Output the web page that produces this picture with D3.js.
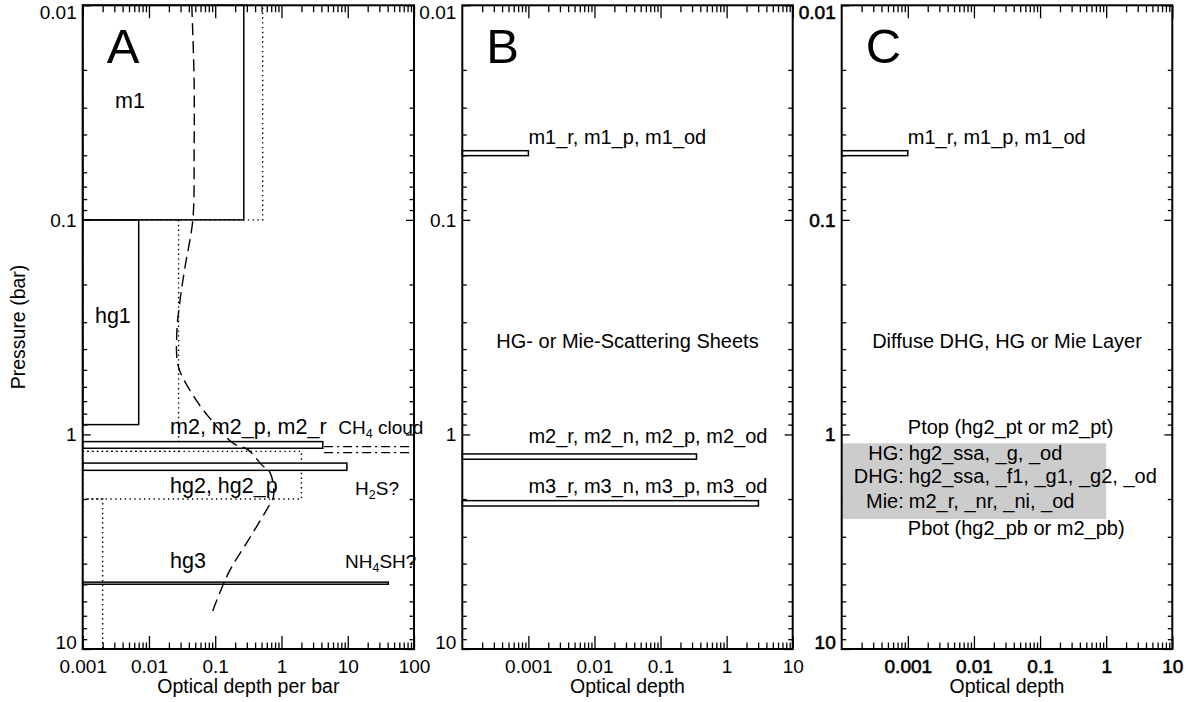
<!DOCTYPE html>
<html><head><meta charset="utf-8">
<script src="https://cdn.jsdelivr.net/npm/d3@7"></script>
<style>
body{margin:0;background:#fff}
svg{display:block}
text{font-family:"Liberation Sans",Arial,Helvetica,sans-serif;fill:#000}
</style>
</head><body>
<svg id="chart" width="1190" height="702"></svg>
<script>
// ---------------- data ----------------
const pressureTicks = [0.01, 0.1, 1, 10];
const pressureTickLabels = ["0.01", "0.1", "1", "10"];
const odTicksA = [0.001, 0.01, 0.1, 1, 10, 100];
const odTickLabelsA = ["0.001", "0.01", "0.1", "1", "10", "100"];
const odTicksBC = [0.001, 0.01, 0.1, 1, 10];
const odTickLabelsBC = ["0.001", "0.01", "0.1", "1", "10"];

// Panel A: solid layers (top pressure, bottom pressure, optical depth per bar)
const layerNamesA = ["m1", "hg1", "m2", "H2S", "hg3"];
const layerTopA = [0.01, 0.1, 1.08, 1.36, 4.88];
const layerBotA = [0.1, 0.9, 1.16, 1.47, 4.99];
const layerOdA = [0.27, 0.007, 4.2, 9.7, 41];

// Panel A: dotted profile layers
const dotTopA = [0.01, 0.1, 1.2, 2.0];
const dotBotA = [0.1, 1.2, 2.0, 10];
const dotOdA = [0.52, 0.028, 2.0, 0.002];

// Panel A: dashed profile curve
const curvePA = [0.01, 0.0223, 0.0472, 0.1, 0.165, 0.236, 0.338, 0.483, 0.643, 0.826, 1.10, 1.18, 1.39, 1.51, 1.95, 2.17, 3.10, 4.43, 6.81];
const curveOdA = [0.0443, 0.048, 0.048, 0.0459, 0.0351, 0.0295, 0.0263, 0.0278, 0.0443, 0.079, 0.188, 0.314, 0.506, 0.675, 0.757, 0.636, 0.318, 0.158, 0.089];

// Panel A: dash-dot lines (CH4 cloud)
const dashDotPA = [1.14, 1.215];
const dashDotOdStartA = [4.4, 4.4];

// Panel B: scattering sheets
const sheetTopB = [0.0476, 1.233, 2.035];
const sheetBotB = [0.0502, 1.305, 2.155];
const sheetOdB = [0.001, 0.35, 3.03];

// Panel C: sheet + diffuse layer
const sheetTopC = [0.0476];
const sheetBotC = [0.0502];
const sheetOdC = [0.001];
const diffuseTopC = 1.1, diffuseBotC = 2.48, diffuseOdC = 1.0;

// ---------------- layout ----------------
const svg = d3.select("#chart");
const yTop = 5.3, yBot = 649;
const y = d3.scaleLog().domain([0.01, 10]).range([yTop, yBot]);

const panels = [
  {x0: 82.7, x1: 414, dom: [0.001, 100], ticks: odTicksA, labels: odTickLabelsA, title: "Optical depth per bar", letter: "A", heavy: false},
  {x0: 462.3, x1: 792.7, dom: [0.0001, 10], ticks: odTicksBC, labels: odTickLabelsBC, title: "Optical depth", letter: "B", heavy: false},
  {x0: 841.7, x1: 1172.3, dom: [0.0001, 10], ticks: odTicksBC, labels: odTickLabelsBC, title: "Optical depth", letter: "C", heavy: true}
];
panels.forEach(p => { p.x = d3.scaleLog().domain(p.dom).range([p.x0, p.x1]); });

function minorValues(lo, hi) {
  const out = [];
  for (let d = lo; d < hi * 0.999; d *= 10) for (let k = 2; k <= 9; k++) out.push(d * k);
  return out;
}
const yMinor = minorValues(0.01, 10);

// ---------------- axes ----------------
panels.forEach((p, pi) => {
  const g = svg.append("g");
  const xMinor = minorValues(p.dom[0], p.dom[1]);
  const styleAxis = sel => { sel.select(".domain").remove(); sel.selectAll("line").attr("stroke", "#000").attr("stroke-width", 1.3); };
  const styleText = sel => sel.attr("font-size", 19).attr("font-family", null).attr("fill", "#000")
    .attr("stroke", p.heavy ? "#000" : null).attr("stroke-width", p.heavy ? 0.6 : null);

  // bottom
  g.append("g").attr("transform", `translate(0,${yBot})`)
    .call(d3.axisBottom(p.x).tickValues(xMinor).tickSizeInner(-6.5).tickSizeOuter(0).tickFormat(""))
    .call(styleAxis);
  const bt = g.append("g").attr("transform", `translate(0,${yBot})`)
    .call(d3.axisBottom(p.x).tickValues(p.ticks).tickSizeInner(-13).tickSizeOuter(0).tickPadding(11)
      .tickFormat((d, i) => p.labels[i]))
    .call(styleAxis);
  bt.selectAll("text").call(styleText);
  // top
  g.append("g").attr("transform", `translate(0,${yTop})`)
    .call(d3.axisTop(p.x).tickValues(xMinor).tickSizeInner(-7).tickSizeOuter(0).tickFormat(""))
    .call(styleAxis);
  g.append("g").attr("transform", `translate(0,${yTop})`)
    .call(d3.axisTop(p.x).tickValues(p.ticks).tickSizeInner(-13).tickSizeOuter(0).tickFormat(""))
    .call(styleAxis);
  // left
  g.append("g").attr("transform", `translate(${p.x0},0)`)
    .call(d3.axisLeft(y).tickValues(yMinor).tickSizeInner(-4.5).tickSizeOuter(0).tickFormat(""))
    .call(styleAxis);
  const lt = g.append("g").attr("transform", `translate(${p.x0},0)`)
    .call(d3.axisLeft(y).tickValues(pressureTicks).tickSizeInner(-8).tickSizeOuter(0).tickPadding(6)
      .tickFormat((d, i) => pressureTickLabels[i]))
    .call(styleAxis);
  lt.selectAll("text").call(styleText)
    .attr("dy", (d, i) => i === 0 ? "0.68em" : (i === pressureTicks.length - 1 ? "-0.02em" : "0.34em"));
  // right
  g.append("g").attr("transform", `translate(${p.x1},0)`)
    .call(d3.axisRight(y).tickValues(yMinor).tickSizeInner(-4.5).tickSizeOuter(0).tickFormat(""))
    .call(styleAxis);
  g.append("g").attr("transform", `translate(${p.x1},0)`)
    .call(d3.axisRight(y).tickValues(pressureTicks).tickSizeInner(-8).tickSizeOuter(0).tickFormat(""))
    .call(styleAxis);

  // titles
  svg.append("text").attr("x", (p.x0 + p.x1) / 2).attr("y", 693.3).attr("text-anchor", "middle")
    .attr("font-size", 19.5).text(p.title);
});

svg.append("text").attr("transform", "translate(24.5,327) rotate(-90)").attr("text-anchor", "middle")
  .attr("font-size", 19.5).text("Pressure (bar)");

// ---------------- panel A marks ----------------
const A = panels[0], B = panels[1], C = panels[2];
const gA = svg.append("g");

// dotted profile
gA.selectAll("rect.dot").data(dotOdA).join("rect").attr("class", "dot")
  .attr("x", A.x(A.dom[0])).attr("width", d => A.x(d) - A.x(A.dom[0]))
  .attr("y", (d, i) => y(dotTopA[i])).attr("height", (d, i) => y(dotBotA[i]) - y(dotTopA[i]))
  .attr("fill", "none").attr("stroke", "#000").attr("stroke-width", 1.4).attr("stroke-dasharray", "1.4,3.4");

// solid layers
gA.selectAll("rect.layer").data(layerOdA).join("rect").attr("class", "layer")
  .attr("x", A.x(A.dom[0])).attr("width", d => A.x(d) - A.x(A.dom[0]))
  .attr("y", (d, i) => y(layerTopA[i])).attr("height", (d, i) => y(layerBotA[i]) - y(layerTopA[i]))
  .attr("fill", (d, i) => i >= 2 ? "#fff" : "none").attr("stroke", "#000").attr("stroke-width", 1.5);

// dash-dot lines
gA.selectAll("line.dd").data(dashDotPA).join("line").attr("class", "dd")
  .attr("x1", (d, i) => A.x(dashDotOdStartA[i])).attr("x2", A.x(A.dom[1]))
  .attr("y1", d => y(d)).attr("y2", d => y(d))
  .attr("stroke", "#000").attr("stroke-width", 1.3).attr("stroke-dasharray", "9,4,2,4");

// dashed curve
const curveData = curvePA.map((p, i) => [curveOdA[i], p]);
gA.append("path").datum(curveData)
  .attr("d", d3.line().x(d => A.x(d[0])).y(d => y(d[1])).curve(d3.curveCatmullRom.alpha(0.5)))
  .attr("fill", "none").attr("stroke", "#000").attr("stroke-width", 1.4).attr("stroke-dasharray", "12,6");

// labels A
function label(g, xs, xv, pv, txt, size, anchor) {
  return g.append("text").attr("x", xs(xv)).attr("y", y(pv)).attr("font-size", size)
    .attr("text-anchor", anchor || "start").text(txt);
}
label(gA, A.x, 0.00308, 0.0301, "m1", 21.5);
label(gA, A.x, 0.00153, 0.301, "hg1", 21.5);
label(gA, A.x, 0.0208, 1.0, "m2, m2_p, m2_r", 21.5);
label(gA, A.x, 0.0208, 1.88, "hg2, hg2_p", 21.5);
label(gA, A.x, 0.0208, 4.2, "hg3", 21.5);

function chem(g, xs, xv, pv, pre, sub, post) {
  const t = g.append("text").attr("x", xs(xv)).attr("y", y(pv)).attr("font-size", 19);
  t.append("tspan").text(pre);
  t.append("tspan").attr("font-size", 12.5).attr("dy", 4).text(sub);
  t.append("tspan").attr("dy", -4).text(post);
  return t;
}
chem(gA, A.x, 7.2, 1.0, "CH", "4", " cloud");
chem(gA, A.x, 12.9, 1.91, "H", "2", "S?");
chem(gA, A.x, 9.1, 4.2, "NH", "4", "SH?");

// panel letters
panels.forEach(p => {
  svg.append("text").attr("x", p.x0 + 24).attr("y", 63.3).attr("font-size", 49).text(p.letter);
});

// ---------------- panel B marks ----------------
const gB = svg.append("g");
gB.selectAll("rect").data(sheetOdB).join("rect")
  .attr("x", B.x(B.dom[0])).attr("width", d => B.x(d) - B.x(B.dom[0]))
  .attr("y", (d, i) => y(sheetTopB[i])).attr("height", (d, i) => y(sheetBotB[i]) - y(sheetTopB[i]))
  .attr("fill", "#fff").attr("stroke", "#000").attr("stroke-width", 1.5);
label(gB, B.x, 0.001, 0.0443, "m1_r, m1_p, m1_od", 20);
label(gB, B.x, 0.001, 1.092, "m2_r, m2_n, m2_p, m2_od", 20);
label(gB, B.x, 0.001, 1.879, "m3_r, m3_n, m3_p, m3_od", 20);
gB.append("text").attr("x", (B.x0 + B.x1) / 2).attr("y", 348.3).attr("text-anchor", "middle")
  .attr("font-size", 20).text("HG- or Mie-Scattering Sheets");

// ---------------- panel C marks ----------------
const gC = svg.append("g");
gC.append("rect").attr("x", C.x(C.dom[0]) + 0.8).attr("width", C.x(diffuseOdC) - C.x(C.dom[0]) - 0.8)
  .attr("y", y(diffuseTopC)).attr("height", y(diffuseBotC) - y(diffuseTopC)).attr("fill", "#cccccc");
gC.selectAll("rect.s").data(sheetOdC).join("rect").attr("class", "s")
  .attr("x", C.x(C.dom[0])).attr("width", d => C.x(d) - C.x(C.dom[0]))
  .attr("y", (d, i) => y(sheetTopC[i])).attr("height", (d, i) => y(sheetBotC[i]) - y(sheetTopC[i]))
  .attr("fill", "#fff").attr("stroke", "#000").attr("stroke-width", 1.5);
label(gC, C.x, 0.001, 0.0443, "m1_r, m1_p, m1_od", 20);
gC.append("text").attr("x", (C.x0 + C.x1) / 2).attr("y", 348.3).attr("text-anchor", "middle")
  .attr("font-size", 20).text("Diffuse DHG, HG or Mie Layer");
label(gC, C.x, 0.001, 1.0, "Ptop (hg2_pt or m2_pt)", 20);
label(gC, C.x, 0.001, 2.94, "Pbot (hg2_pb or m2_pb)", 20);
const cRowsPrefix = ["HG:", "DHG:", "Mie:"];
const cRowsText = ["hg2_ssa, _g, _od", "hg2_ssa, _f1, _g1, _g2, _od", "m2_r, _nr, _ni, _od"];
const cRowsP = [1.315, 1.688, 2.208];
cRowsPrefix.forEach((s, i) => {
  gC.append("text").attr("x", C.x(0.001) - 4).attr("y", y(cRowsP[i])).attr("font-size", 20)
    .attr("text-anchor", "end").text(s);
  gC.append("text").attr("x", C.x(0.001) + 1).attr("y", y(cRowsP[i])).attr("font-size", 20)
    .text(cRowsText[i]);
});

// frames
panels.forEach(p => {
  svg.append("rect").attr("x", p.x0).attr("y", yTop).attr("width", p.x1 - p.x0).attr("height", yBot - yTop)
    .attr("fill", "none").attr("stroke", "#000").attr("stroke-width", 2);
});
</script>
</body></html>
